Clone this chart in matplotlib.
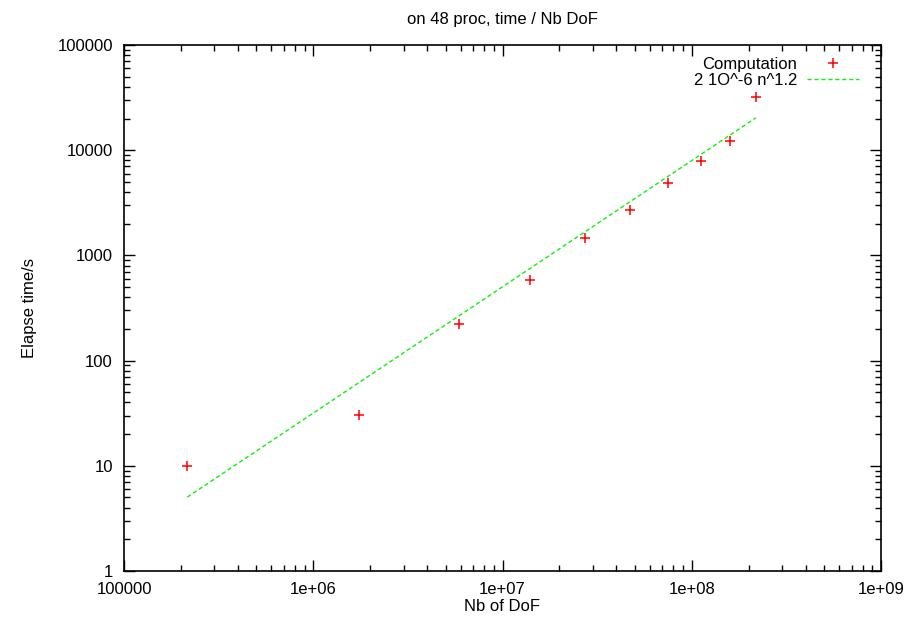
import matplotlib.pyplot as plt
from matplotlib.ticker import LogLocator, FixedLocator, FixedFormatter, NullFormatter

plt.rcParams['font.family'] = ['Liberation Sans', 'DejaVu Sans']

# measured points (Nb of DoF, elapsed time in s)
dof = [2.16e5, 1.74e6, 5.87e6, 1.39e7, 2.73e7, 4.72e7, 7.53e7, 1.12e8, 1.59e8, 2.18e8]
elapsed = [10, 30.4, 221, 584, 1455, 2680, 4910, 7950, 12300, 31800]

# fitted curve end points: 2 10^-6 n^1.2
fit_x = [2.16e5, 2.18e8]
fit_y = [5.04, 20300]

xticks = [1e5, 1e6, 1e7, 1e8, 1e9]
xlabels = ['100000', '1e+06', '1e+07', '1e+08', '1e+09']
yticks = [1, 10, 100, 1000, 10000, 100000]
ylabels = ['1', '10', '100', '1000', '10000', '100000']

fig = plt.figure(figsize=(9.11, 6.25), dpi=100)
ax = fig.add_axes([124/911, 1 - 571/625, 757/911, 526/625])

ax.plot(dof, elapsed, '+', color='red', markersize=7, markeredgewidth=1.1,
        label='Computation')
ax.plot(fit_x, fit_y, color='#11ee11', linestyle=(0, (3, 2)), linewidth=1,
        label='2 1O^-6 n^1.2')

ax.set_xscale('log')
ax.set_yscale('log')
ax.set_xlim(1e5, 1e9)
ax.set_ylim(1, 1e5)

ax.xaxis.set_major_locator(FixedLocator(xticks))
ax.xaxis.set_major_formatter(FixedFormatter(xlabels))
ax.yaxis.set_major_locator(FixedLocator(yticks))
ax.yaxis.set_major_formatter(FixedFormatter(ylabels))
ax.xaxis.set_minor_locator(LogLocator(base=10, subs=range(2, 10)))
ax.yaxis.set_minor_locator(LogLocator(base=10, subs=range(2, 10)))
ax.xaxis.set_minor_formatter(NullFormatter())
ax.yaxis.set_minor_formatter(NullFormatter())

ax.tick_params(which='both', direction='in', top=True, right=True, labelsize=12, width=1)
ax.tick_params(which='major', length=8, pad=8)
ax.tick_params(which='minor', length=4)
for s in ax.spines.values():
    s.set_linewidth(1.2)

ax.set_xlabel('Nb of DoF', fontsize=12, labelpad=1.5)
ax.set_ylabel('Elapse time/s', fontsize=12, labelpad=15)
ax.set_title('on 48 proc, time / Nb DoF', fontsize=12, pad=15)

ax.legend(loc='upper right', bbox_to_anchor=(0.9797, 0.9905), frameon=False,
          markerfirst=False, fontsize=12, handlelength=3.1, borderaxespad=0,
          labelspacing=0.1, handletextpad=0.6)

fig.savefig('out.png', dpi=100)
